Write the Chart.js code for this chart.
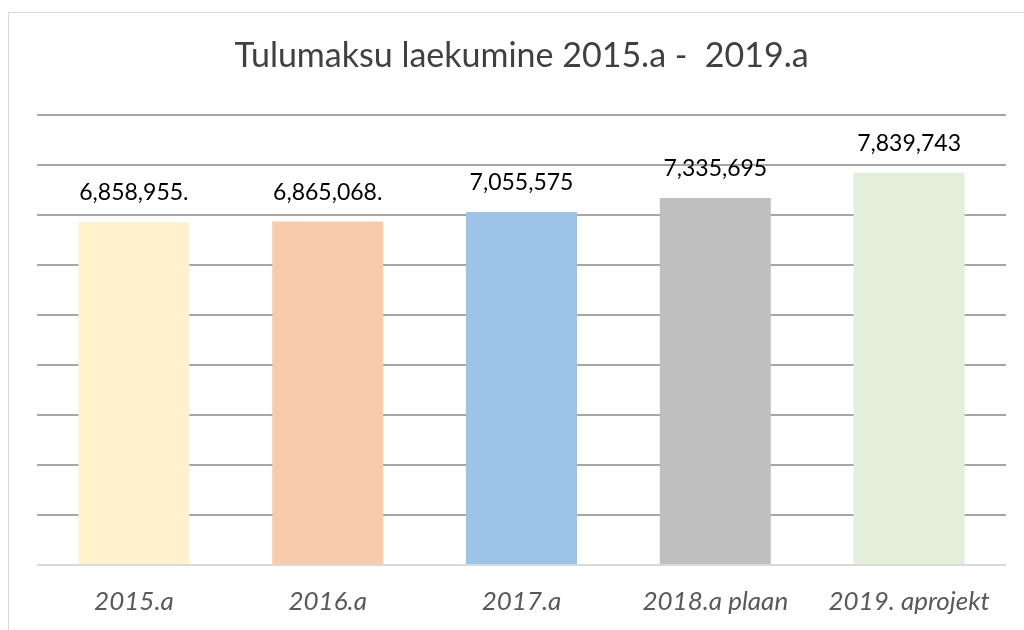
<!DOCTYPE html>
<html>
<head>
<meta charset="utf-8">
<script src="https://cdn.jsdelivr.net/npm/chart.js@4/dist/chart.umd.min.js"></script>
<style>
  body { margin: 0; background: #fff; }
  #frame { position: absolute; left: 8px; top: 12px; width: 1030px; height: 640px; border: 1px solid #d9d9d9; }
  #wrap { position: absolute; left: 0; top: 0; width: 1024px; height: 630px; }
</style>
</head>
<body>
<div id="frame"></div>
<div id="wrap"><canvas id="chart" width="1024" height="630"></canvas></div>
<script>
let years = ['2015.a', '2016.a', '2017.a', '2018.a plaan', '2019. aprojekt'];
let amounts = [6858955, 6865068, 7055575, 7335695, 7839743];
let amountLabels = ['6,858,955.', '6,865,068.', '7,055,575', '7,335,695', '7,839,743'];
let colors = ['#FFF2CC', '#F8CBAD', '#9DC3E6', '#BFBFBF', '#E2EFDA'];

// labels above each bar
let barLabels = {
    id: 'barLabels',
    afterDatasetsDraw(chart) {
        let ctx = chart.ctx;
        let meta = chart.getDatasetMeta(0);
        ctx.save();
        ctx.font = '23px Lato';
        ctx.fillStyle = '#000';
        ctx.textAlign = 'center';
        ctx.textBaseline = 'alphabetic';
        meta.data.forEach((bar, i) => {
            ctx.fillText(amountLabels[i], bar.x, bar.y - 22);
        });
        ctx.restore();
    }
};

let chart = new Chart(document.getElementById('chart').getContext('2d'), {
    type: 'bar',
    data: {
        labels: years,
        datasets: [{
            data: amounts,
            backgroundColor: colors,
            categoryPercentage: 1,
            barPercentage: 0.573
        }]
    },
    options: {
        responsive: false,
        animation: false,
        layout: { padding: { left: 37, right: 18, top: 4, bottom: 0 } },
        plugins: {
            legend: { display: false },
            tooltip: { enabled: false },
            title: {
                display: true,
                text: 'Tulumaksu laekumine 2015.a -  2019.a',
                color: '#404040',
                font: { family: 'Lato', size: 34, weight: 'normal' },
                padding: { top: 32, bottom: 38 }
            }
        },
        scales: {
            x: {
                grid: { display: false, drawTicks: false },
                border: { display: false },
                ticks: {
                    color: '#595959',
                    font: { family: 'Lato', size: 26, style: 'italic' },
                    padding: 21
                },
                afterFit: s => { s.height = 65; }
            },
            y: {
                min: 0,
                max: 9000000,
                ticks: { display: false, stepSize: 1000000 },
                border: { display: false },
                grid: {
                    drawTicks: false,
                    lineWidth: 2,
                    color: c => c.tick.value === 0 ? '#d9d9d9' : '#a6a6a6'
                }
            }
        }
    },
    plugins: [barLabels]
});
</script>
</body>
</html>
